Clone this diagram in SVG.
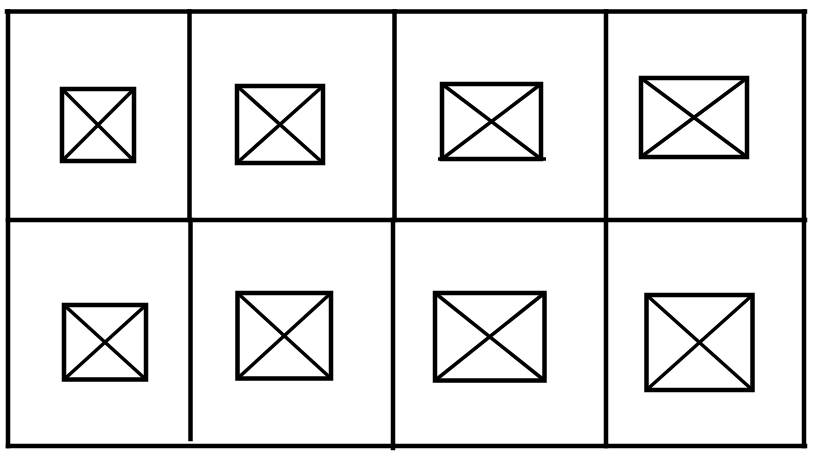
<svg xmlns="http://www.w3.org/2000/svg" width="819" height="460" viewBox="0 0 819 460">
<style>
.g{stroke:#000;stroke-width:4.5;fill:none;stroke-linecap:square}
.b{stroke:#000;stroke-width:4.5;fill:none}
.x{stroke:#000;stroke-width:3.6;fill:none}
</style>
<rect width="819" height="460" fill="#fff"/>
<g id="grid">
<line class="g" x1="7" y1="11.5" x2="805" y2="11.5"/>
<line class="g" x1="8" y1="11.5" x2="8" y2="446"/>
<line class="g" x1="8" y1="446" x2="805" y2="446"/>
<line class="g" x1="804" y1="11.5" x2="804" y2="446"/>
<line class="g" x1="8" y1="220" x2="805" y2="220"/>
<line class="g" x1="189.5" y1="11.5" x2="189.5" y2="220"/>
<line class="g" x1="190.5" y1="220" x2="190.5" y2="439"/>
<line class="g" x1="394.5" y1="11.5" x2="394.5" y2="220"/>
<line class="g" x1="393" y1="220" x2="393" y2="448"/>
<line class="g" x1="606" y1="11.5" x2="606" y2="446"/>
</g>
<g id="box1"><rect class="b" x="62" y="89" width="72" height="72"/><path class="x" d="M62 89L134 161M62 161L134 89"/></g>
<g id="box2"><rect class="b" x="237" y="86" width="86" height="77"/><path class="x" d="M237 86L323 163M237 163L323 86"/></g>
<g id="box3"><rect class="b" x="442" y="84" width="99" height="75"/><path class="x" d="M442 84L541 159M442 159L541 84M438 159L546 159"/></g>
<g id="box4"><rect class="b" x="641" y="78" width="106" height="79"/><path class="x" d="M641 78L747 157M641 157L747 78"/></g>
<g id="box5"><rect class="b" x="64" y="305" width="82" height="74.5"/><path class="x" d="M64 305L146 379.5M64 379.5L146 305"/></g>
<g id="box6"><rect class="b" x="237.5" y="293" width="93.5" height="85.5"/><path class="x" d="M237.5 293L331 378.5M237.5 378.5L331 293"/></g>
<g id="box7"><rect class="b" x="435" y="293" width="109.5" height="87.5"/><path class="x" d="M435 293L544.5 380.5M435 380.5L544.5 293"/></g>
<g id="box8"><rect class="b" x="646.5" y="295" width="106" height="95"/><path class="x" d="M646.5 295L752.5 390M646.5 390L752.5 295"/></g>
</svg>
